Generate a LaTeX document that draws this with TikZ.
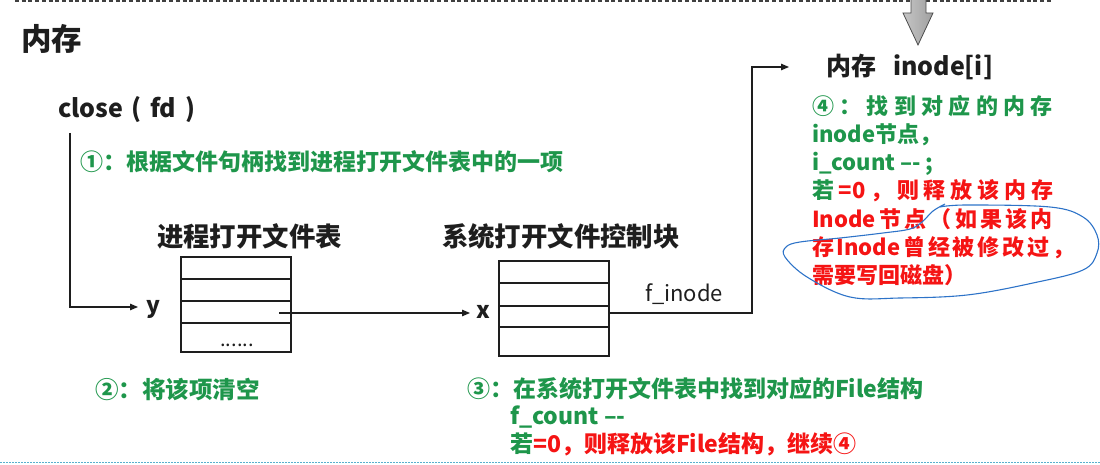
\documentclass[tikz,border=0pt]{standalone}
\usepackage{fontspec}
\setmainfont{Noto Sans CJK SC}
\usetikzlibrary{arrows.meta}
\definecolor{tgreen}{RGB}{30,150,75}
\definecolor{tred}{RGB}{245,20,20}
\definecolor{tblack}{RGB}{30,30,30}
\definecolor{tblue}{RGB}{45,115,200}
\definecolor{tteal}{RGB}{90,175,205}
\newcommand\jline[2]{\makebox[#1][s]{#2}}
\newcommand\hs{\hfil}
\begin{document}
\begin{tikzpicture}[x=1pt,y=-1pt,
  txt/.style={inner sep=0pt, outer sep=0pt, anchor=base west, text=tblack,
    font=\bfseries\fontsize{23}{28}\selectfont},
  gtxt/.style={txt, text=tgreen},
  rtxt/.style={txt, text=tred},
  row/.style={draw=tblack, line width=2.5pt, minimum width=110pt, inner sep=0pt, outer sep=0pt},
  arr/.style={-{Triangle[length=8pt,width=6.5pt]}, line width=1.3pt, draw=tblack},
  bluepen/.style={draw=tblue, line width=1.1pt}]
\useasboundingbox (0,0) rectangle (1100,465);

% frame lines
\draw[dash pattern=on 4pt off 2.7pt, line width=1.2pt, draw=black!75] (15,1) -- (1052,1);
\draw[dash pattern=on 1.5pt off 1.5pt, line width=1.5pt, draw=tteal] (0,462.5) -- (1100,462.5);

% grey block arrow
\path[shading=axis, left color=gray!45, right color=gray!75, draw=black!70, line width=0.8pt]
  (911,-3) -- (926,-3) -- (926,13) -- (933,13) -- (918,45) -- (903,13) -- (911,13) -- cycle;

% heading
\node[txt, font=\bfseries\fontsize{30.5}{34}\selectfont] (mem) at (21,51) {内存};
\node[txt, font=\bfseries\fontsize{25}{28}\selectfont] (close) at (58,118)
  {\jline{137pt}{close\hs{}(\hs{}fd\hs{})}};
\node[gtxt] (s1) at (80,171) {①：根据文件句柄找到进程打开文件表中的一项};

% table headings
\node[txt, font=\bfseries\fontsize{26.4}{30}\selectfont] (h1) at (157,247) {进程打开文件表};
\node[txt, font=\bfseries\fontsize{26.4}{30}\selectfont] (h2) at (442,247) {系统打开文件控制块};

% left table
\node[row, minimum height=22pt] (L1) at (236,268) {};
\node[row, minimum height=22pt] (L2) at (236,290) {};
\node[row, minimum height=22pt] (L3) at (236,312) {};
\node[row, minimum height=29pt] (L4) at (236,337.5) {};
\node[inner sep=0pt, anchor=base, font=\fontsize{20}{24}\selectfont, text=tblack] (dots) at (237,346) {......};

% right table
\node[row, minimum height=22pt] (R1) at (554,272) {};
\node[row, minimum height=23pt] (R2) at (554,294.5) {};
\node[row, minimum height=21pt] (R3) at (554,316.5) {};
\node[row, minimum height=29pt] (R4) at (554,341.5) {};

% labels
\node[txt] (ylab) at (146,313) {y};
\node[txt] (xlab) at (476,318) {x};
\node[txt, font=\fontsize{22}{26}\selectfont] (finode) at (645,301) {f\_inode};

% connectors
\coordinate (c1) at (70,133);
\coordinate (ytip) at (138,307);
\coordinate (ys) at (279,313);
\coordinate (xtip) at (470,313);
\coordinate (c2) at (752,67);
\coordinate (itip) at (789,67);
\draw[arr] (c1) |- (ytip);
\draw[arr] (ys) -- (xtip);
\draw[arr] ([yshift=3.5pt]R3.east) -| (c2) -- (itip);

% inode heading
\node[txt, font=\bfseries\fontsize{25}{28}\selectfont] (ih) at (826,76)
  {\jline{167pt}{内存\hs{}inode[i]}};

% step 4 text
\node[gtxt, font=\bfseries\fontsize{22}{28}\selectfont] (f1) at (812,115)
  {\jline{241pt}{④\hs{}：\hs{}找\hs{}到\hs{}对\hs{}应\hs{}的\hs{}内\hs{}存}};
\node[gtxt, font=\bfseries\fontsize{22}{28}\selectfont] (f2) at (812,143) {inode节点，};
\node[gtxt, font=\bfseries\fontsize{22}{28}\selectfont] (f3) at (812,171) {i\_count \textendash- ;};
\node[rtxt, font=\bfseries\fontsize{22}{28}\selectfont] (f4) at (812,199)
  {\jline{241pt}{\textcolor{tgreen}{若}\hs{}=0\hs{}，\hs{}则\hs{}释\hs{}放\hs{}该\hs{}内\hs{}存}};
\node[rtxt, font=\bfseries\fontsize{22}{28}\selectfont] (f5) at (812,227)
  {\jline{241pt}{Inode\hs{}节\hs{}点\hs{}（\hs{}如\hs{}果\hs{}该\hs{}内}};
\node[rtxt, font=\bfseries\fontsize{22}{28}\selectfont] (f6) at (812,255)
  {\jline{262pt}{存\hs{}Inode\hs{}曾\hs{}经\hs{}被\hs{}修\hs{}改\hs{}过\hs{}，}};
\node[rtxt, font=\bfseries\fontsize{22}{28}\selectfont] (f7) at (812,283) {需要写回磁盘）};

% blue hand-drawn loop
\draw[bluepen] plot[smooth, tension=0.6] coordinates {(940,207) (967,205) (1050,207) (1083,217) (1097,235) (1097,253) (1083,270) (1033,283) (967,295) (900,298) (850,297) (807,277) (785,257) (786,247) (800,242) (840,238) (883,233) (910,229) (922,222) (933,211) (945,204)};

% bottom steps
\node[gtxt, font=\bfseries\fontsize{23.5}{28}\selectfont] (s2) at (95,398) {②：将该项清空};
\node[gtxt] (s3) at (467,397) {③：在系统打开文件表中找到对应的File结构};
\node[gtxt] (s3b) at (510,424) {f\_count \textendash-};
\node[rtxt] (s3c) at (510,452) {\textcolor{tgreen}{若}=0，则释放该File结构，继续④};
\end{tikzpicture}
\end{document}
